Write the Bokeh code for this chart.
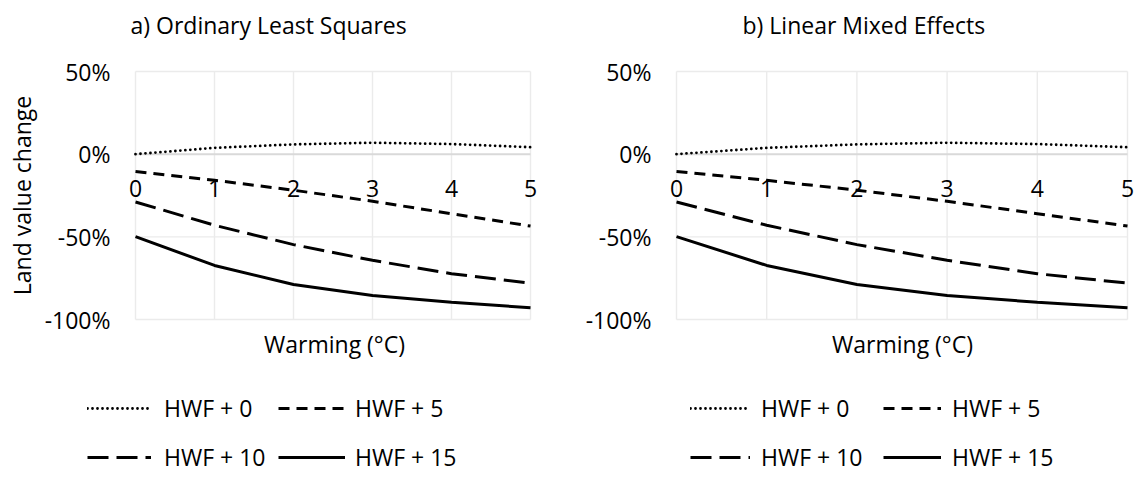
from bokeh.plotting import figure
from bokeh.models import (LabelSet, Label, ColumnDataSource, Legend, LegendItem, Range1d)
from bokeh.core.properties import value
from bokeh.layouts import row
from bokeh.embed import file_html
from bokeh.resources import INLINE

# ---------------- data ----------------
warming = [0, 1, 2, 3, 4, 5]
x_tick_labels = ["0", "1", "2", "3", "4", "5"]
y_ticks = [-100, -50, 0, 50]
y_tick_labels = ["-100%", "-50%", "0%", "50%"]
series_names = ["HWF + 0", "HWF + 5", "HWF + 10", "HWF + 15"]

ols_hwf0 = [0.0, 3.8, 5.9, 6.9, 6.1, 4.2]
ols_hwf5 = [-10.5, -15.8, -21.8, -28.5, -36.0, -43.5]
ols_hwf10 = [-28.9, -43.0, -54.7, -64.2, -72.3, -78.0]
ols_hwf15 = [-49.9, -67.3, -78.8, -85.5, -89.6, -92.9]

lme_hwf0 = [0.0, 3.8, 5.9, 6.9, 6.1, 4.2]
lme_hwf5 = [-10.5, -15.8, -21.8, -28.5, -36.0, -43.5]
lme_hwf10 = [-28.9, -43.0, -54.7, -64.2, -72.3, -78.0]
lme_hwf15 = [-49.9, -67.3, -78.8, -85.5, -89.6, -92.9]

# ---------------- style / layout ----------------
FONT = "Open Sans"
FS = "23px"
TXT = "#000000"
GRID = "#ebebeb"
H = 477
Y_TOP_PX, Y_BOT_PX = 71, 319          # pixel rows of 50% and -100%
Y_MIN, Y_MAX = -100, 50

styles = [
    dict(line_dash="0 5", line_width=2.8, line_cap="round"),
    dict(line_dash="11 7", line_width=3, line_cap="butt"),
    dict(line_dash="21 8", line_width=3, line_cap="butt"),
    dict(line_dash="solid", line_width=3, line_cap="butt"),
]


def panel(title, series, W, x0_px, x5_px, title_x, ylabel, warm_x, legend_cols, legend_rows):
    xs = (x5_px - x0_px) / 5.0
    ys = (Y_BOT_PX - Y_TOP_PX) / float(Y_MAX - Y_MIN)
    xr = Range1d(-x0_px / xs, 5 + (W - x5_px) / xs)
    yr = Range1d(Y_MIN - (H - Y_BOT_PX) / ys, Y_MAX + Y_TOP_PX / ys)
    p = figure(width=W, height=H, min_border=0, x_range=xr, y_range=yr,
               output_backend="svg", toolbar_location=None,
               x_axis_location=None, y_axis_location=None,
               outline_line_color=None, background_fill_color="white",
               border_fill_color="white")
    p.grid.visible = False

    x_lo, x_hi = warming[0], warming[-1]
    # gridlines bounded to the plot area
    p.segment(x0=warming, y0=[Y_MIN] * len(warming), x1=warming, y1=[Y_MAX] * len(warming),
              line_color=GRID, line_width=1.4)
    gy = [t for t in y_ticks if t != 0]
    p.segment(x0=[x_lo] * len(gy), y0=gy, x1=[x_hi] * len(gy), y1=gy,
              line_color=GRID, line_width=1.4)
    p.segment(x0=[x_lo], y0=[0], x1=[x_hi], y1=[0], line_color="#d9d9d9", line_width=2)

    # x tick labels (axis crosses at 0), drawn beneath the series lines
    xsrc = ColumnDataSource(dict(x=warming, y=[0] * len(warming), t=x_tick_labels))
    p.text(x="x", y="y", text="t", source=xsrc, y_offset=34,
           text_align="center", text_baseline="middle",
           text_font=value(FONT), text_font_size=value(FS), text_color=TXT)

    renderers = []
    for vals, st in zip(series, styles):
        r = p.line(warming, vals, line_color="black", **st)
        renderers.append(r)

    # y tick labels
    ysrc = ColumnDataSource(dict(x=[x_lo] * len(y_ticks), y=y_ticks, t=y_tick_labels))
    p.add_layout(LabelSet(x="x", y="y", text="t", source=ysrc, x_offset=-25,
                          text_align="right", text_baseline="middle",
                          text_font=value(FONT), text_font_size=value(FS),
                          text_color=value(TXT)))

    p.add_layout(Label(x=title_x, y=H - 24, x_units="screen", y_units="screen", text=title,
                       text_align="left", text_baseline="middle",
                       text_font=FONT, text_font_size=FS, text_color=TXT))
    if ylabel:
        p.add_layout(Label(x=21, y=H - 195, x_units="screen", y_units="screen", text=ylabel,
                           angle=90, angle_units="deg",
                           text_align="center", text_baseline="middle",
                           text_font=FONT, text_font_size=FS, text_color=TXT))
    p.add_layout(Label(x=warm_x, y=H - 343, x_units="screen", y_units="screen",
                       text="Warming (°C)", text_align="center", text_baseline="middle",
                       text_font=FONT, text_font_size=FS, text_color=TXT))

    slots = [(legend_cols[0], legend_rows[0]), (legend_cols[1], legend_rows[0]),
             (legend_cols[0], legend_rows[1]), (legend_cols[1], legend_rows[1])]
    for name, r, ((vx, gw, so), cy) in zip(series_names, renderers, slots):
        leg = Legend(items=[LegendItem(label=name, renderers=[r])],
                     location=(vx, H - cy - 10),
                     orientation="horizontal", glyph_width=gw, glyph_height=20,
                     label_height=20, label_standoff=so, padding=0, margin=0, spacing=0,
                     border_line_color=None, background_fill_alpha=0,
                     label_text_font=FONT, label_text_font_size=FS, label_text_color=TXT)
        p.add_layout(leg)
    return p


pa = panel("a) Ordinary Least Squares", [ols_hwf0, ols_hwf5, ols_hwf10, ols_hwf15],
           W=568, x0_px=135, x5_px=530, title_x=130, ylabel="Land value change",
           warm_x=334, legend_cols=[(87, 64, 13), (278, 67, 10)], legend_rows=(414, 463))
pb = panel("b) Linear Mixed Effects", [lme_hwf0, lme_hwf5, lme_hwf10, lme_hwf15],
           W=573, x0_px=108, x5_px=559, title_x=174, ylabel=None,
           warm_x=334, legend_cols=[(122, 60, 11), (315, 58, 11)], legend_rows=(414, 463))

layout = row(pa, pb)
open("out.html", "w").write(file_html(layout, INLINE))
